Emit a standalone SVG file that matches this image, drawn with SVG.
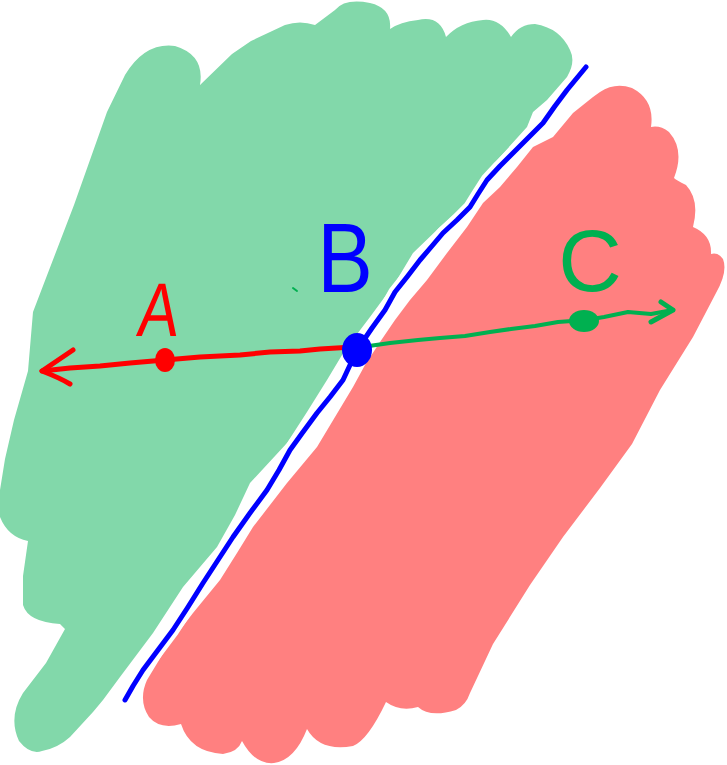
<svg xmlns="http://www.w3.org/2000/svg" width="727" height="765" viewBox="0 0 727 765">
<style>
.lbl{font-family:"Liberation Sans","DejaVu Sans",sans-serif;font-weight:normal}
.ln{fill:none;stroke-linecap:round;stroke-linejoin:round}
</style>
<defs>
<path id="bline" d="M 586,67 L 567,90 L 555,106 L 543,123 L 528,138 L 513,153 L 500,166 L 487,180 L 478,194 L 470,207 L 457,220 L 443,233 L 432,246 L 420,260 L 407,277 L 395,292 L 385,310 L 372,328 L 357,350 L 343,380 L 330,397 L 317,413 L 303,432 L 290,450 L 279,470 L 267,490 L 250,513 L 233,537 L 218,560 L 203,583 L 188,607 L 173,630 L 158,650 L 143,670 L 133,686 L 125,700"/>
</defs>
<rect width="727" height="765" fill="#ffffff"/>
<g id="region-left">
<path fill="#82D8AA" d="M 107,112 L 74,205 L 46,278 L 33,312 L 28,371 L 14,420 L 5,459 L 0,490 L 0,517 Q 8,537 28,541 L 23,576 L 23,605 Q 28,622 60,624 L 65,629 L 46,663 L 23,693 Q 8,717 19,741 Q 30,755 42,751 Q 58,748 70,737 L 93,712 L 103,700 L 120,677 L 153,633 L 183,587 L 217,547 L 235,515 L 250,483 L 287,443 L 307,412 L 327,380 L 345,350 L 370,317 L 395,283 L 413,253 L 440,227 L 467,203 L 483,177 L 500,157 L 527,127 L 533,112 L 547,100 L 567,77 Q 576,62 570,50 Q 560,28 535,24 Q 520,24 511,37 Q 500,18 483,20 Q 460,22 446,37 Q 440,15 418,20 Q 400,22 390,29 Q 392,8 370,3 Q 345,-2 335,10 L 315,25 Q 300,20 285,25 L 251,41 L 232,54 L 200,85 Q 205,55 175,46 Q 145,42 125,75 Z"/>
</g>
<g id="region-right">
<path fill="#FF8080" d="M 147,680 Q 138,700 149,717 Q 160,730 181,724 Q 190,752 223,754 Q 238,752 242,741 Q 255,765 274,763 Q 295,760 307,729 Q 320,752 353,746 Q 368,740 386,702 Q 400,712 418,707 Q 430,718 456,710 Q 466,705 470,693 L 493,644 L 530,585 L 563,537 L 600,488 L 632,444 L 660,390 L 693,337 L 716,293 Q 728,272 723,259 Q 718,252 711,254 Q 712,235 693,227 Q 700,200 686,185 Q 676,180 674,178 Q 685,150 669,132 Q 660,125 651,127 Q 655,100 632,88 Q 615,82 600,92 L 593,97 L 573,113 L 553,137 L 533,147 L 517,167 L 500,187 L 483,203 L 467,227 L 447,253 L 427,280 L 410,300 L 395,320 L 380,342 L 365,365 L 353,387 L 335,417 L 317,447 L 287,483 L 270,505 L 253,527 L 237,553 L 220,580 L 193,613 L 167,647 Z"/>
</g>
<g id="boundary">
<use href="#bline" class="ln" stroke="#ffffff" stroke-width="13"/>
<use href="#bline" class="ln" stroke="#0000FF" stroke-width="5"/>
</g>
<g id="connectors">
<path class="ln" stroke="#FF0000" stroke-width="5" d="M 353,347 L 320,349 L 300,351 L 270,352 L 240,355 L 200,357 L 165,360 L 130,363 L 100,366 L 70,368 L 42,371"/>
<path class="ln" stroke="#FF0000" stroke-width="5" d="M 73,350 L 42,371 Q 60,378 70,384"/>
<path class="ln" stroke="#00B050" stroke-width="4" d="M 362,347 L 390,343 L 418,340 L 440,338 L 465,336 L 490,332 L 511,329 L 535,326 L 558,322 L 586,320 L 604,317 L 628,312 L 651,314 L 673,310"/>
<path class="ln" stroke="#00B050" stroke-width="5" d="M 661,302 L 673,310 L 651,322"/>
<path class="ln" stroke="#00B050" stroke-width="2" d="M 293,288 L 297,291"/>
</g>
<g id="node-A">
<ellipse cx="165" cy="360" rx="10" ry="12" fill="#FF0000"/>
<text class="lbl" x="0" y="0" font-size="76" fill="#FF0000" text-anchor="middle" transform="translate(156,336) scale(0.8,1) skewX(-8)">A</text>
</g>
<g id="node-B">
<ellipse cx="357" cy="350" rx="15" ry="17" fill="#0000FF"/>
<text class="lbl" x="0" y="0" font-size="98" fill="#0000FF" text-anchor="middle" transform="translate(345,292) scale(0.85,1)">B</text>
</g>
<g id="node-C">
<ellipse cx="584" cy="321" rx="15" ry="11" fill="#00B050"/>
<text class="lbl" x="0" y="0" font-size="88" fill="#00B050" text-anchor="middle" transform="translate(590,291)">C</text>
</g>
</svg>
